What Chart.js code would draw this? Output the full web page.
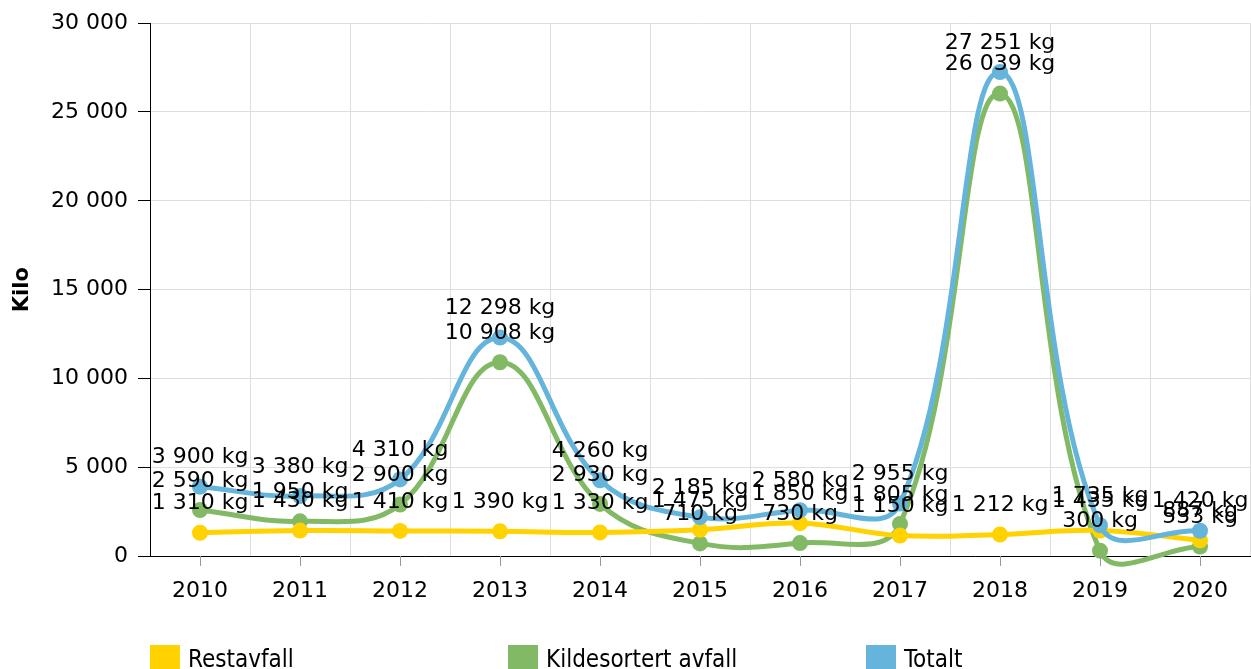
<!DOCTYPE html>
<html>
<head>
<meta charset="utf-8">
<script src="https://cdn.jsdelivr.net/npm/chart.js@4/dist/chart.umd.min.js"></script>
<style>
  html, body { margin: 0; padding: 0; background: #fff; }
  #wrap { position: relative; width: 1251px; height: 669px; overflow: hidden; }
  #legend { position: absolute; left: 0; top: 645px; width: 1251px; height: 30px; font-family: 'DejaVu Sans Condensed', 'Liberation Sans Narrow', 'DejaVu Sans', sans-serif; font-size: 24px; color: #000; }
  .li { position: absolute; top: 0; height: 30px; line-height: 28px; white-space: nowrap; }
  .li .box { position: absolute; left: 0; top: 0; width: 30px; height: 30px; }
  .li .txt { position: absolute; left: 38px; top: 0; }
</style>
</head>
<body>
<div id="wrap">
  <canvas id="c" width="1251" height="669"></canvas>
  <div id="legend"></div>
</div>
<script>
const years = ['2010','2011','2012','2013','2014','2015','2016','2017','2018','2019','2020'];
const restavfall = [1310, 1430, 1410, 1390, 1330, 1475, 1850, 1150, 1212, 1435, 887];
const kildesortert = [2590, 1950, 2900, 10908, 2930, 710, 730, 1805, 26039, 300, 533];
const totalt = [3900, 3380, 4310, 12298, 4260, 2185, 2580, 2955, 27251, 1735, 1420];
const seriesNames = ['Restavfall', 'Kildesortert avfall', 'Totalt'];
const yTicks = [0, 5000, 10000, 15000, 20000, 25000, 30000];

const colors = ['#FFD200', '#82B964', '#64B4DC'];
const FONT = "'DejaVu Sans', Verdana, sans-serif";

function fmt(v) {
  return String(Math.round(v)).replace(/\B(?=(\d{3})+(?!\d))/g, ' ');
}

const labelPlugin = {
  id: 'pointLabels',
  afterDatasetsDraw(chart) {
    const ctx = chart.ctx;
    ctx.save();
    ctx.font = '22px ' + FONT;
    ctx.fillStyle = '#000';
    ctx.textAlign = 'center';
    ctx.textBaseline = 'middle';
    chart.data.datasets.forEach((ds, di) => {
      const meta = chart.getDatasetMeta(di);
      meta.data.forEach((pt, i) => {
        ctx.fillText(fmt(ds.data[i]) + ' kg', pt.x, pt.y - 29);
      });
    });
    ctx.restore();
  }
};

const xTickMarks = {
  id: 'xTickMarks',
  afterDraw(chart) {
    const xs = chart.scales.x;
    const ctx = chart.ctx;
    ctx.save();
    ctx.strokeStyle = '#999';
    ctx.lineWidth = 1;
    for (let i = 0; i < years.length; i++) {
      const x = Math.round(xs.getPixelForTick(i)) + 0.5;
      ctx.beginPath();
      ctx.moveTo(x, xs.top);
      ctx.lineTo(x, xs.top + 10);
      ctx.stroke();
    }
    ctx.restore();
  }
};

function ds(label, data, color, order) {
  return {
    label, data, order,
    borderColor: color,
    backgroundColor: color,
    borderWidth: 5,
    pointRadius: 8,
    pointHoverRadius: 8,
    pointBorderWidth: 0,
    pointBackgroundColor: color,
    tension: 0.4,
    fill: false,
    clip: false
  };
}

new Chart(document.getElementById('c'), {
  type: 'line',
  data: {
    labels: years,
    datasets: [
      ds(seriesNames[0], restavfall, colors[0], 1),
      ds(seriesNames[1], kildesortert, colors[1], 2),
      ds(seriesNames[2], totalt, colors[2], 0)
    ]
  },
  options: {
    responsive: false,
    animation: false,
    devicePixelRatio: 1,
    layout: { autoPadding: false, padding: { top: 22, right: 1, bottom: 0, left: 0 } },
    elements: { line: { capBezierPoints: false } },
    plugins: {
      legend: { display: false },
      tooltip: { enabled: false }
    },
    scales: {
      x: {
        offset: true,
        grid: { offset: true, color: '#dedede', drawTicks: false },
        border: { display: true, color: '#000', width: 1 },
        ticks: { font: { family: FONT, size: 22 }, color: '#000', padding: 22, maxRotation: 0, autoSkip: false },
        afterFit(s) { s.height = 113; s.paddingLeft = 0; s.paddingRight = 0; }
      },
      y: {
        min: 0, max: 30000,
        afterBuildTicks(s) { s.ticks = yTicks.map(v => ({ value: v })); },
        grid: { color: '#dedede', tickLength: 12, tickColor: '#000' },
        border: { display: true, color: '#000', width: 1 },
        ticks: { font: { family: FONT, size: 22 }, color: '#000', padding: 10, callback: v => fmt(v) },
        title: { display: true, text: 'Kilo', font: { family: FONT, size: 21, weight: 'bold' }, color: '#000', padding: { top: 10, bottom: 0 } },
        afterFit(s) { s.width = 150; }
      }
    }
  },
  plugins: [labelPlugin, xTickMarks]
});

const legend = document.getElementById('legend');
const legendX = [150, 508, 866];
seriesNames.forEach((name, i) => {
  const d = document.createElement('div');
  d.className = 'li';
  d.style.left = legendX[i] + 'px';
  d.innerHTML = '<span class="box" style="background:' + colors[i] + '"></span><span class="txt">' + name + '</span>';
  legend.appendChild(d);
});
</script>
</body>
</html>
